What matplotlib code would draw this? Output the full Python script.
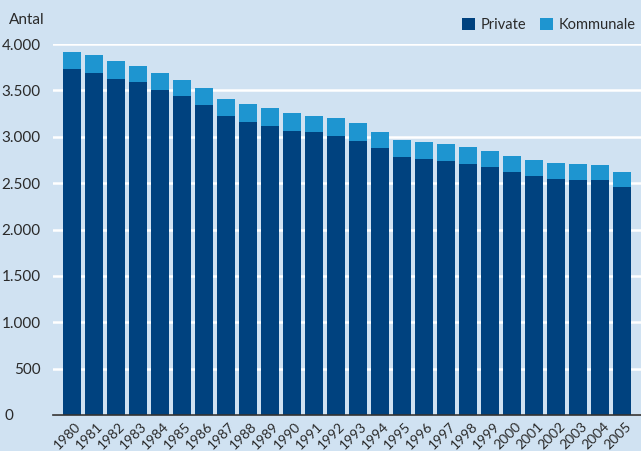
import matplotlib.pyplot as plt
from matplotlib.ticker import FuncFormatter
from matplotlib.transforms import ScaledTranslation
from matplotlib.patches import Patch

# --- Data ---
years = [str(y) for y in range(1980, 2006)]
private = [3726, 3683, 3618, 3586, 3499, 3434, 3337, 3229, 3164, 3121,
           3067, 3046, 3013, 2959, 2884, 2786, 2765, 2743, 2711, 2678,
           2624, 2581, 2549, 2538, 2538, 2462]
total = [3910, 3877, 3812, 3758, 3683, 3607, 3521, 3402, 3348, 3305,
         3251, 3229, 3197, 3143, 3056, 2970, 2948, 2927, 2894, 2851,
         2797, 2754, 2722, 2711, 2700, 2624]
kommunale = [t - p for t, p in zip(total, private)]

# --- Style ---
BG = '#d0e2f2'
DARK = '#00427f'
LIGHT = '#1e95d0'
TXT = '#2a2a2a'
plt.rcParams['font.family'] = ['Lato', 'DejaVu Sans']

fig = plt.figure(figsize=(6.41, 4.51), dpi=100, facecolor=BG)
ax = fig.add_axes([53 / 641, 36 / 451, 588 / 641, 371 / 451])
ax.set_facecolor(BG)

x = range(len(years))
ax.bar(x, private, width=0.82, color=DARK, zorder=3)
ax.bar(x, kommunale, bottom=private, width=0.82, color=LIGHT, zorder=3)

ax.set_xlim(-0.86, len(years) - 1 + 0.86)
ax.set_ylim(0, 4000)
ax.set_yticks(range(0, 4001, 500))
ax.yaxis.set_major_formatter(FuncFormatter(lambda v, _: f'{int(v):,}'.replace(',', '.')))
ax.grid(axis='y', color='white', linewidth=1.8, zorder=0)
ax.set_axisbelow(True)

for s in ['top', 'right', 'left']:
    ax.spines[s].set_visible(False)
ax.spines['bottom'].set_color('#333333')
ax.spines['bottom'].set_linewidth(1.2)
ax.spines['bottom'].set_zorder(4)

ax.tick_params(axis='y', length=0, pad=9, labelsize=11, labelcolor=TXT)
ax.tick_params(axis='x', length=0, pad=4, labelsize=10, labelcolor=TXT)
ax.set_xticks(list(x))
ax.set_xticklabels(years, rotation=45, ha='right', rotation_mode='anchor')
for lbl in ax.get_xticklabels():
    lbl.set_transform(lbl.get_transform() + ScaledTranslation(0.03, 0, fig.dpi_scale_trans))

# the zero label sits further left in the original
zero = ax.get_yticklabels()[0]
zero.set_transform(zero.get_transform() + ScaledTranslation(-0.27, 0, fig.dpi_scale_trans))

fig.text(9 / 641, 1 - 20 / 451, 'Antal', fontsize=11, color=TXT, va='center', ha='left')

handles = [Patch(facecolor=DARK, label='Private'), Patch(facecolor=LIGHT, label='Kommunale')]
fig.legend(handles=handles, loc='center right', bbox_to_anchor=(1.012, 1 - 25 / 451),
           ncol=2, frameon=False, fontsize=10.5, handlelength=0.9, handleheight=0.9,
           handletextpad=0.4, columnspacing=0.9, labelcolor=TXT)

fig.savefig('out.png', dpi=100, facecolor=BG)
